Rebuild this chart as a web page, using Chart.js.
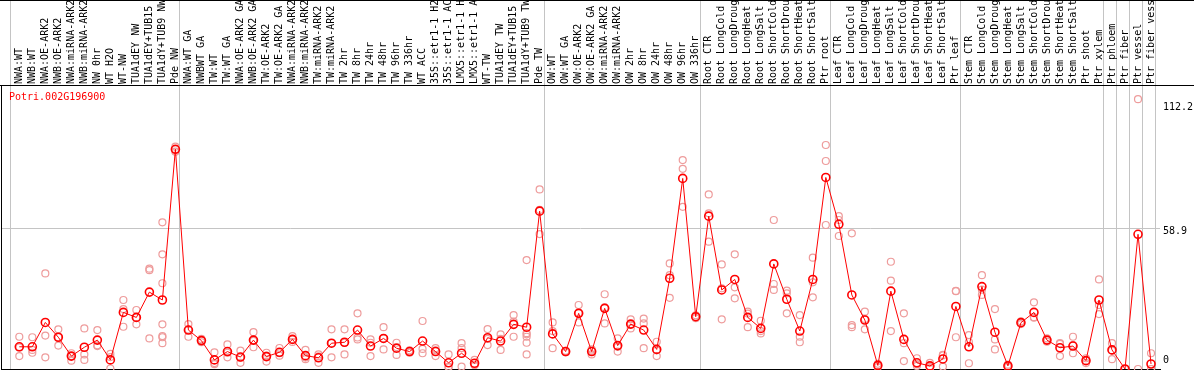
<!DOCTYPE html>
<html><head><meta charset="utf-8">
<script src="https://cdn.jsdelivr.net/npm/chart.js@4/dist/chart.umd.min.js"></script>
<style>
html,body{margin:0;padding:0;background:#fff;}
#wrap{position:relative;width:1194px;height:370px;overflow:hidden;background:#fff;}
#c{position:absolute;left:0;top:0;}
.hl{position:absolute;left:0;width:1194px;height:1px;background:#000;}
#title{position:absolute;left:9px;top:91px;font:10px/12px "DejaVu Sans Mono",monospace;color:#f00;white-space:pre;}
</style></head><body>
<div id="wrap">
<canvas id="c" width="1194" height="370"></canvas>
<div class="hl" style="top:0"></div>
<div class="hl" style="top:85px"></div>
<div id="title">Potri.002G196900</div>
</div>
<script>
const categories = [
 "NWA:WT","NWB:WT","NWA:OE-ARK2","NWB:OE-ARK2","NWA:miRNA-ARK2","NWB:miRNA-ARK2","NW 0hr","WT H2O","WT-NW",
 "TUA1dEY NW","TUA1dEY+TUB15 NW","TUA1dY+TUB9 NW","Pde NW",
 "NWA:WT GA","NWBWT GA","TW:WT","TW:WT GA","NWA:OE-ARK2 GA","NWB:OE-ARK2 GA","TW:OE-ARK2","TW:OE-ARK2 GA",
 "NWA:miRNA-ARK2","NWB:miRNA-ARK2","TW:miRNA-ARK2","TW:miRNA-ARK2","TW 2hr","TW 8hr","TW 24hr","TW 48hr","TW 96hr","TW 336hr",
 "WT ACC","35S::etr1-1 H2O","35S::etr1-1 ACC","LMX5::etr1-1 H2O","LMX5::etr1-1 ACC","WT-TW","TUA1dEY TW","TUA1dEY+TUB15 TW","TUA1dY+TUB9 TW","Pde TW",
 "OW:WT","OW:WT GA","OW:OE-ARK2","OW:OE-ARK2 GA","OW:miRNA-ARK2","OW:miRNA-ARK2","OW 2hr","OW 8hr","OW 24hr","OW 48hr","OW 96hr","OW 336hr",
 "Root CTR","Root LongCold","Root LongDrought","Root LongHeat","Root LongSalt","Root ShortCold","Root ShortDrought","Root ShortHeat","Root ShortSalt","Ptr root",
 "Leaf CTR","Leaf LongCold","Leaf LongDrought","Leaf LongHeat","Leaf LongSalt","Leaf ShortCold","Leaf ShortDrought","Leaf ShortHeat","Leaf ShortSalt","Ptr leaf",
 "Stem CTR","Stem LongCold","Stem LongDrought","Stem LongHeat","Stem LongSalt","Stem ShortCold","Stem ShortDrought","Stem ShortHeat","Stem ShortSalt","Ptr shoot",
 "Ptr xylem","Ptr phloem","Ptr fiber","Ptr vessel","Ptr fiber vessel"
];
const means = [
 9.3, 9.3, 19.5, 13.3, 5.4, 9.1, 12.1, 3.8, 23.7, 21.6, 32.2, 28.9, 92.0,
 16.3, 11.9, 3.8, 7.3, 5.0, 12.1, 5.2, 7.0, 12.4, 5.6, 4.7, 10.8, 11.2, 16.3, 9.6, 12.8, 8.7, 7.3, 11.7, 7.3, 2.6, 6.6, 2.4, 13.1, 11.7, 18.7, 17.5, 66.1,
 14.7, 7.3, 23.3, 7.3, 25.4, 9.8, 18.8, 16.3, 8.2, 38.0, 79.8, 21.9,
 64.0, 33.1, 37.5, 21.6, 17.0, 44.0, 29.2, 15.9, 37.5, 80.2,
 60.6, 31.0, 20.5, 1.5, 32.6, 12.4, 2.6, 1.3, 4.2, 26.2,
 9.3, 34.5, 15.4, 1.3, 19.4, 23.7, 12.1, 8.9, 9.6, 3.5,
 28.9, 8.0, 0, 56.4, 2.1
];
const replicates = [
 [13.5,9.0,5.4],[13.3,8.0,6.8],[40.0,14.0,4.9],[16.6,13.3,9.8],[6.6,5.4,3.5],[17.0,6.1,3.8],[16.3,9.9,9.6],[6.3,5.0,0.2],[28.9,25.1,17.7],
 [24.7,21.6,18.7],[42.0,41.4,12.8],[61.4,48.0,35.9,18.7,13.8,13.3,10.8],[93.1,92.0,91.0],
 [18.8,16.5,13.5],[12.6,12.0,11.2],[7.0,2.5,2.0],[10.3,6.8,4.9],[7.7,4.8,2.6],[15.4,11.8,9.1],[6.8,5.6,3.1],[8.8,6.6,5.6],
 [13.8,12.4,11.3],[8.0,4.8,4.1],[6.1,5.3,2.6],[16.6,10.8,4.9],[16.6,11.0,6.1],[23.3,13.2,12.4],[12.4,11.0,5.4],[17.5,12.8,8.2],[11.0,9.2,5.9],[7.8,7.3,6.8],
 [20.1,8.4,6.6],[8.7,7.8,5.4],[6.1,1.0,0.7],[10.8,8.7,1.0],[3.8,1.7,1.7],[16.7,12.6,10.0],[14.5,12.6,8.0],[22.6,19.8,13.5],[45.6,15.0,14.5,13.5,11.0,6.1],[75.2,66.6,56.5],
 [19.5,15.9,8.7],[7.6,7.3,7.0],[26.8,23.6,19.5],[8.2,7.6,6.1],[31.3,25.8,19.1],[12.8,9.3,7.3],[20.8,18.6,17.0],[21.1,19.1,8.7],[11.4,7.8,5.4],[44.2,39.3,29.8],[87.5,83.8,67.9],[22.5,21.9,21.3],
 [73.1,65.2,53.3],[43.8,33.8,20.8],[48.0,34.2,29.6],[24.0,23.2,17.5],[20.2,15.9,14.9],[62.4,35.6,33.1],[32.8,31.7,23.3],[22.6,13.5,11.2],[46.6,36.3,30.0],[93.8,87.1,60.3],
 [64.0,62.4,55.7],[56.8,18.4,17.5],[24.0,20.9,16.6],[2.2,1.5,0.8],[44.9,37.0,15.9],[23.3,10.8,3.3],[4.5,2.0,1.3],[2.6,0.9,0.4],[5.9,5.7,1.0],[32.7,32.6,13.3],
 [14.2,11.3,2.4],[39.3,33.2,31.0],[25.1,12.4,8.2],[1.8,1.3,0.8],[20.0,19.4,18.8],[27.9,21.7,21.5],[12.8,12.1,11.4],[10.8,10.5,5.4],[13.5,10.0,6.6],[4.5,3.5,2.5],
 [37.5,26.8,23.0],[10.8,7.7,4.1],[0,0],[113.0,0],[6.6,0,0]
];
const groupBoundaries = [0,13,41,53,63,73,84,85,86,87,88];
const yTickValues = [0, 58.9, 112.2];
const yTickLabels = ["0", "58.9", "112.2"];

const X_MIN = -1.407, X_MAX = 87.69, Y_MAX = 118.5, GRID_SHIFT = 0.65;
const FONT = {family: "'DejaVu Sans Mono', monospace", size: 10};
const GRID = '#c4c4c4';

const meanPts = means.map((v, i) => ({x: i, y: v}));
const repPts = replicates.flatMap((arr, i) => arr.map(v => ({x: i, y: v})));

function yLabelLines(i) {
  const t = yTickLabels[i];
  if (i === 0) return [t, '', '', ''];
  if (i === 1) return ['', t];
  return ['', '', t];
}
const noPad = s => { s.paddingLeft = 0; s.paddingRight = 0; s.paddingTop = 0; s.paddingBottom = 0; };

new Chart(document.getElementById('c'), {
  type: 'line',
  data: {datasets: [
    {label: 'mean', data: meanPts, xAxisID: 'x', yAxisID: 'y', borderColor: '#ff0000', borderWidth: 1,
     pointRadius: 4, pointBorderWidth: 1.6, pointBorderColor: '#ff0000', pointBackgroundColor: 'rgba(0,0,0,0)',
     tension: 0, order: 1, clip: false},
    {label: 'replicates', data: repPts, xAxisID: 'x', yAxisID: 'y', showLine: false,
     pointRadius: 3.5, pointBorderWidth: 1.2, pointBorderColor: '#ee9c9c', pointBackgroundColor: 'rgba(0,0,0,0)',
     order: 2, clip: false}
  ]},
  options: {
    responsive: false, animation: false, devicePixelRatio: 1,
    layout: {autoPadding: false, padding: {left: 1, right: 0, top: 0, bottom: 1}},
    plugins: {legend: {display: false}, tooltip: {enabled: false}, title: {display: false}},
    scales: {
      x: {type: 'linear', position: 'top', weight: 10, min: X_MIN, max: X_MAX, bounds: 'data',
          afterBuildTicks: s => { s.ticks = categories.map((c, i) => ({value: i})); },
          ticks: {autoSkip: false, minRotation: 90, maxRotation: 90, padding: 2, labelOffset: 12, color: '#000', font: FONT,
                  callback: v => categories[v]},
          grid: {display: false, drawTicks: false}, border: {display: false},
          afterFit: s => { s.height = 86; noPad(s); }},
      xg: {type: 'linear', position: 'top', weight: 0, min: X_MIN, max: X_MAX, bounds: 'data',
          afterBuildTicks: s => { s.ticks = groupBoundaries.map(k => ({value: k - GRID_SHIFT})); },
          ticks: {display: false},
          grid: {color: GRID, tickColor: GRID, lineWidth: 1, drawTicks: true, tickLength: 86},
          border: {display: false},
          afterFit: s => { s.height = 0; noPad(s); }},
      xb: {type: 'linear', position: 'bottom', min: 0, max: 1, bounds: 'data',
          ticks: {display: false}, grid: {display: false, drawTicks: false},
          border: {display: true, color: '#000', width: 1},
          afterFit: s => { s.height = 0; noPad(s); }},
      y: {type: 'linear', position: 'right', min: 0, max: Y_MAX, bounds: 'data',
          afterBuildTicks: s => { s.ticks = yTickValues.map(v => ({value: v})); },
          ticks: {autoSkip: false, padding: 3, color: '#000', font: {...FONT, lineHeight: '6px'},
                  callback: (v, i) => yLabelLines(i)},
          grid: {drawTicks: false, color: c => (c.tick && c.tick.value === yTickValues[1]) ? GRID : 'rgba(0,0,0,0)'},
          border: {display: false},
          afterFit: s => { s.width = 34; noPad(s); }},
      yl: {type: 'linear', position: 'left', min: 0, max: 1, bounds: 'data',
          ticks: {display: false}, grid: {display: false, drawTicks: false},
          border: {display: true, color: '#000', width: 1},
          afterFit: s => { s.width = 0; noPad(s); }}
    }
  }
});
</script>
</body></html>
